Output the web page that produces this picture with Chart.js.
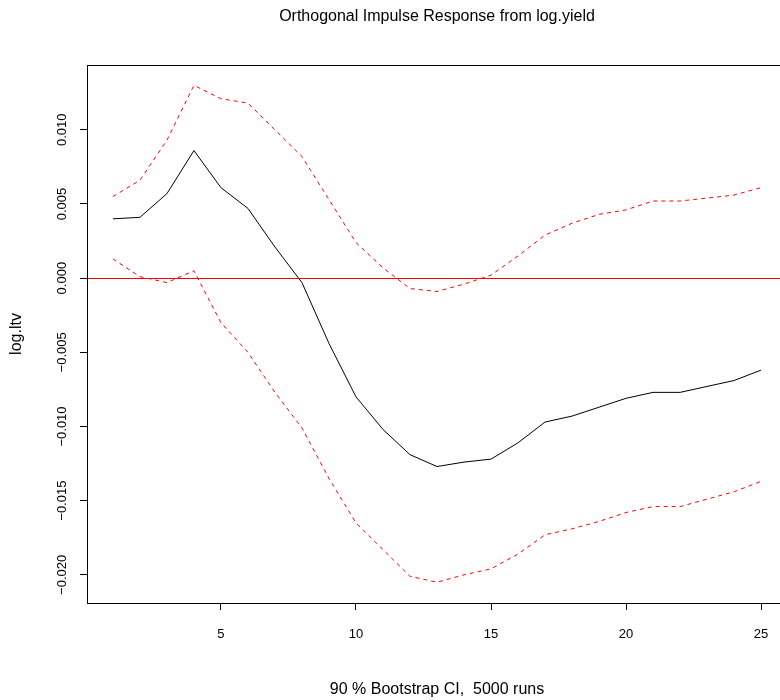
<!DOCTYPE html>
<html>
<head>
<meta charset="utf-8">
<script src="https://cdn.jsdelivr.net/npm/chart.js@4/dist/chart.umd.min.js"></script>
<style>
  html, body { margin: 0; padding: 0; background: #fff; overflow: hidden; }
  #wrap { width: 780px; height: 700px; overflow: hidden; }
</style>
</head>
<body>
<div id="wrap"><canvas id="irf" width="790" height="700"></canvas></div>
<script>
// --- Données ---
const horizon = [1,2,3,4,5,6,7,8,9,10,11,12,13,14,15,16,17,18,19,20,21,22,23,24,25];
const irf = [0.0040, 0.0041, 0.0057, 0.0086, 0.0061, 0.0047, 0.0021, -0.0003, -0.0044, -0.0080,
  -0.0102, -0.0119, -0.0127, -0.0124, -0.0122, -0.0111, -0.0097, -0.0093, -0.0087, -0.0081,
  -0.0077, -0.0077, -0.0073, -0.0069, -0.0062];
const upper = [0.0055, 0.0066, 0.0093, 0.0130, 0.0121, 0.0118, 0.0100, 0.0082, 0.0053, 0.0024,
  0.0007, -0.0007, -0.0009, -0.0004, 0.0002, 0.0015, 0.0029, 0.0037, 0.0043, 0.0046,
  0.0052, 0.0052, 0.0054, 0.0056, 0.0061];
const lower = [0.0013, 0.0001, -0.0003, 0.0005, -0.0030, -0.0050, -0.0077, -0.0101, -0.0135, -0.0165,
  -0.0183, -0.0201, -0.0205, -0.0200, -0.0196, -0.0186, -0.0173, -0.0169, -0.0164, -0.0158,
  -0.0154, -0.0154, -0.0149, -0.0144, -0.0137];
const xTicks = [5, 10, 15, 20, 25];
const yTicks = [0.010, 0.005, 0.000, -0.005, -0.010, -0.015, -0.020];

const mainTitle = "Orthogonal Impulse Response from log.yield";
const xTitle = "90 % Bootstrap CI,  5000 runs";
const yTitle = "log.ltv";

const FONT = "'Liberation Sans', Arial, Helvetica, sans-serif";

function pts(values) {
  return horizon.map((h, i) => ({ x: h, y: values[i] }));
}

// --- Cadre, ligne zéro et textes à la manière de R ---
const rDecor = {
  id: "rDecor",
  afterDatasetsDraw(chart) {
    const { ctx, chartArea: a, scales } = chart;
    const y0 = Math.round(scales.y.getPixelForValue(0)) + 0.5;
    ctx.save();
    ctx.setLineDash([]);
    ctx.strokeStyle = "#ff0000";
    ctx.lineWidth = 1;
    ctx.beginPath();
    ctx.moveTo(a.left, y0);
    ctx.lineTo(a.right, y0);
    ctx.stroke();
    ctx.restore();
  },
  afterDraw(chart) {
    const { ctx, chartArea: a, scales } = chart;
    ctx.save();
    ctx.setLineDash([]);
    ctx.strokeStyle = "#000";
    ctx.lineWidth = 1;
    ctx.strokeRect(Math.round(a.left) + 0.5, Math.round(a.top) + 0.5,
      Math.round(a.right - a.left), Math.round(a.bottom - a.top));

    const cx = (a.left + a.right) / 2;
    ctx.fillStyle = "#000";
    ctx.textAlign = "center";
    ctx.textBaseline = "middle";
    ctx.font = "16px " + FONT;
    ctx.fillText(mainTitle, cx, 17);
    ctx.fillText(xTitle, cx, 690);

    // étiquettes de l'axe y, tournées comme dans R
    ctx.font = "13px " + FONT;
    yTicks.forEach((v) => {
      const py = scales.y.getPixelForValue(v);
      ctx.save();
      ctx.translate(62, py);
      ctx.rotate(-Math.PI / 2);
      ctx.fillText(v.toFixed(3).replace("-", "\u2212"), 0, 0);
      ctx.restore();
    });
    ctx.font = "16px " + FONT;
    ctx.save();
    ctx.translate(17, (a.top + a.bottom) / 2);
    ctx.rotate(-Math.PI / 2);
    ctx.fillText(yTitle, 0, 0);
    ctx.restore();
    ctx.restore();
  }
};

const ctx = document.getElementById("irf").getContext("2d");
new Chart(ctx, {
  type: "line",
  data: {
    datasets: [
      { label: "irf", data: pts(irf), borderColor: "#000", borderWidth: 1, pointRadius: 0, tension: 0, fill: false },
      { label: "upper", data: pts(upper), borderColor: "#ff0000", borderWidth: 1, borderDash: [4, 4], pointRadius: 0, tension: 0, fill: false },
      { label: "lower", data: pts(lower), borderColor: "#ff0000", borderWidth: 1, borderDash: [4, 4], pointRadius: 0, tension: 0, fill: false }
    ]
  },
  options: {
    responsive: false,
    animation: false,
    layout: { padding: { top: 65, right: 3, left: 0, bottom: 0 } },
    plugins: { legend: { display: false }, tooltip: { enabled: false }, title: { display: false } },
    scales: {
      x: {
        type: "linear",
        min: 0.04,
        max: 25.96,
        afterBuildTicks: (s) => { s.ticks = xTicks.map((v) => ({ value: v })); },
        afterFit: (s) => { s.height = 97; },
        grid: { drawOnChartArea: false, drawTicks: true, tickLength: 7, color: "#000", lineWidth: 1 },
        border: { display: true, color: "#000" },
        ticks: { color: "#000", font: { family: FONT, size: 13 }, padding: 17, maxRotation: 0, autoSkip: false }
      },
      y: {
        type: "linear",
        min: -0.02190,
        max: 0.01437,
        afterBuildTicks: (s) => { s.ticks = yTicks.map((v) => ({ value: v })); },
        afterFit: (s) => { s.width = 87; },
        grid: { drawOnChartArea: false, drawTicks: true, tickLength: 7, color: "#000", lineWidth: 1 },
        border: { display: true, color: "#000" },
        ticks: { display: false }
      }
    }
  },
  plugins: [rDecor]
});
</script>
</body>
</html>
